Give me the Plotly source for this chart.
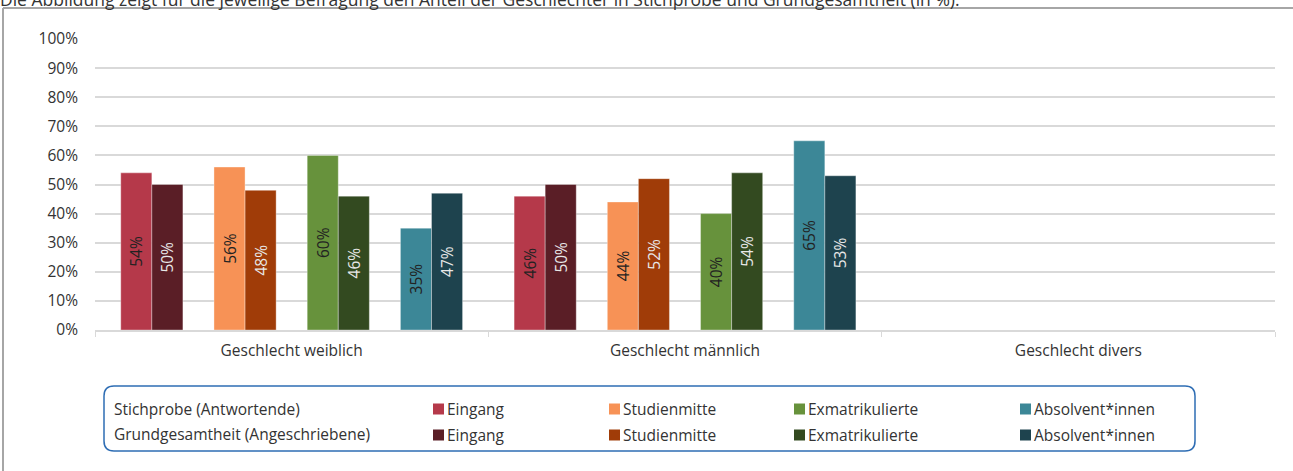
import plotly.graph_objects as go

# --- data ---
categories = ["Geschlecht weiblich", "Geschlecht männlich", "Geschlecht divers"]
groups = ["Eingang", "Studienmitte", "Exmatrikulierte", "Absolvent*innen"]

stichprobe_eingang = [54, 46, 0]
stichprobe_studienmitte = [56, 44, 0]
stichprobe_exmatrikulierte = [60, 40, 0]
stichprobe_absolventen = [35, 65, 0]

grund_eingang = [50, 50, 0]
grund_studienmitte = [48, 52, 0]
grund_exmatrikulierte = [46, 54, 0]
grund_absolventen = [47, 53, 0]

row_labels = ["Stichprobe (Antwortende)", "Grundgesamtheit (Angeschriebene)"]
title_text = ("Die Abbildung zeigt für die jeweilige Befragung den Anteil der "
              "Geschlechter in Stichprobe und Grundgesamtheit (in %).")

stichprobe = [stichprobe_eingang, stichprobe_studienmitte,
              stichprobe_exmatrikulierte, stichprobe_absolventen]
grund = [grund_eingang, grund_studienmitte, grund_exmatrikulierte, grund_absolventen]

colors_s = ["#B5394A", "#F79256", "#67923C", "#3C8797"]
colors_g = ["#5A1E26", "#A03C08", "#334A20", "#1E434E"]

# --- geometry (pixels) ---
W, H = 1293, 471
ML, MR, MT, MB = 95, 18, 39, 141
PW, PH = W - ML - MR, H - MT - MB


def px_x(x):
    return (x - ML) / PW


def px_y(y):
    return (H - MB - y) / PH


FONT = "Open Sans"
FS = 15.5
TXT = "#333333"
bar_w = 0.079
edge = (1 - 11 * bar_w) / 2

fig = go.Figure()

for i, g in enumerate(groups):
    for row, (vals, col, tcol) in enumerate([(stichprobe[i], colors_s[i], "#222222"),
                                             (grund[i], colors_g[i], "#e8e8e8")]):
        off = -0.5 + edge + i * 3 * bar_w + row * bar_w
        fig.add_trace(go.Bar(
            x=categories, y=vals,
            name=f"{row_labels[row]} {g}",
            marker=dict(color=col, line=dict(color="rgba(255,255,255,0.35)", width=1)),
            width=bar_w, offset=off,
            text=[f"{v}%" if v else "" for v in vals],
            textposition="inside", insidetextanchor="middle", textangle=-90,
            textfont=dict(family=FONT, size=FS, color=tcol),
            showlegend=False, hoverinfo="x+y+name",
        ))

fig.update_layout(
    width=W, height=H,
    margin=dict(l=ML, r=MR, t=MT, b=MB),
    paper_bgcolor="white", plot_bgcolor="white",
    barmode="overlay",
    font=dict(family=FONT, size=FS, color=TXT),
    uniformtext=dict(minsize=13, mode="show"),
)
fig.update_yaxes(range=[0, 100], dtick=10, ticksuffix="%", showgrid=True,
                 gridcolor="#d9d9d9", gridwidth=1.5, zeroline=False,
                 ticklabelstandoff=16, tickfont=dict(size=FS, color=TXT))
fig.update_xaxes(type="category", range=[-0.5, 2.5], showline=True, linecolor="#d9d9d9",
                 linewidth=1.5, ticks="outside", tickson="boundaries", ticklen=5,
                 tickcolor="#d9d9d9", ticklabelstandoff=6,
                 tickfont=dict(size=FS, color=TXT))

shapes = []
# outer frame
shapes.append(dict(type="line", xref="paper", yref="paper",
                   x0=px_x(3), x1=px_x(W), y0=px_y(8), y1=px_y(8),
                   line=dict(color="#a6a6a6", width=2)))
shapes.append(dict(type="line", xref="paper", yref="paper",
                   x0=px_x(3), x1=px_x(3), y0=px_y(8), y1=px_y(H + 5),
                   line=dict(color="#a6a6a6", width=2)))

# rounded legend box
bx0, bx1, by0, by1, r = 104, 1195, 386, 451, 10
pts = [
    f"M {px_x(bx0 + r)},{px_y(by0)}",
    f"L {px_x(bx1 - r)},{px_y(by0)}",
    f"Q {px_x(bx1)},{px_y(by0)} {px_x(bx1)},{px_y(by0 + r)}",
    f"L {px_x(bx1)},{px_y(by1 - r)}",
    f"Q {px_x(bx1)},{px_y(by1)} {px_x(bx1 - r)},{px_y(by1)}",
    f"L {px_x(bx0 + r)},{px_y(by1)}",
    f"Q {px_x(bx0)},{px_y(by1)} {px_x(bx0)},{px_y(by1 - r)}",
    f"L {px_x(bx0)},{px_y(by0 + r)}",
    f"Q {px_x(bx0)},{px_y(by0)} {px_x(bx0 + r)},{px_y(by0)} Z",
]
shapes.append(dict(type="path", xref="paper", yref="paper", path=" ".join(pts),
                   line=dict(color="#2E6DB4", width=1.5)))

annotations = []
row_y = [409, 434]
sq_x = [433, 609, 794, 1020]
for row in range(2):
    annotations.append(dict(xref="paper", yref="paper", x=px_x(112), y=px_y(row_y[row]),
                            text=row_labels[row], showarrow=False, xanchor="left",
                            yanchor="middle", font=dict(size=FS, color=TXT)))
    cols = colors_s if row == 0 else colors_g
    for i, g in enumerate(groups):
        sy = row_y[row] + (0 if row == 0 else 1)
        shapes.append(dict(type="rect", xref="paper", yref="paper",
                           x0=px_x(sq_x[i]), x1=px_x(sq_x[i] + 11),
                           y0=px_y(sy - 5.5), y1=px_y(sy + 5.5),
                           fillcolor=cols[i], line=dict(width=0)))
        annotations.append(dict(xref="paper", yref="paper", x=px_x(sq_x[i] + 12),
                                y=px_y(sy), text=g, showarrow=False,
                                xanchor="left", yanchor="middle",
                                font=dict(size=FS, color=TXT)))

# title line, cut at the top edge as in the source
annotations.append(dict(xref="paper", yref="paper", x=px_x(-2), y=px_y(-1),
                        text=title_text, showarrow=False, xanchor="left", yanchor="middle",
                        font=dict(size=17.5, color=TXT)))

fig.update_layout(shapes=shapes, annotations=annotations)

fig.write_html("out.html", config={"displayModeBar": False},
               post_script="document.body.style.margin='0';")
